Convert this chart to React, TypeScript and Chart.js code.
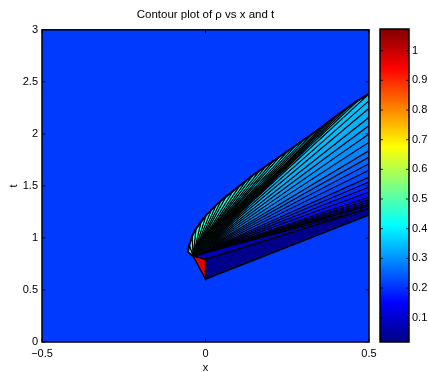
import React, { useEffect, useRef } from "react";
import { Chart, registerables } from "chart.js";
Chart.register(...registerables);

// ---------- texts & ticks ----------
const titleText = "Contour plot of ρ vs x and t";
const xAxisLabel = "x";
const tAxisLabel = "t";
const xTickValues = [-0.5, 0, 0.5];
const xTickLabels = ["−0.5", "0", "0.5"];
const tTickValues = [0, 0.5, 1, 1.5, 2, 2.5, 3];
const tTickLabels = ["0", "0.5", "1", "1.5", "2", "2.5", "3"];
const cbTickValues = [0.1, 0.2, 0.3, 0.4, 0.5, 0.6, 0.7, 0.8, 0.9, 1];
const cbTickLabels = ["0.1", "0.2", "0.3", "0.4", "0.5", "0.6", "0.7", "0.8", "0.9", "1"];
const rhoMin = 0.018;
const rhoMax = 1.073;

// ---------- domain (background density) ----------
const domainX = [-0.5, 0.5, 0.5, -0.5];
const domainT = [0, 0, 3, 3];
const rhoBackground = 0.21;

// ---------- red triangle (first vertex is the fan apex) ----------
const triX = [-0.038, 0, 0];
const triT = [0.825, 0.795, 0.605];
const rhoTriangle = 0.97;

// ---------- dark lower band ----------
const bandX = [0, 0.5, 0.5, 0];
const bandT = [0.795, 1.285, 1.22, 0.605];
const rhoBand = 0.03;

// ---------- upper fan boundary (shock) – contour rays end here ----------
const shockX = [-0.0535, -0.0495, -0.041, -0.029, -0.0138, 0.0015, 0.0168, 0.0321, 0.0474, 0.0627,
  0.0832, 0.1034, 0.1239, 0.1443, 0.1645, 0.185, 0.2055, 0.2257, 0.2514, 0.2768,
  0.3021, 0.3278, 0.3532, 0.3807, 0.4083, 0.4358, 0.4664, 0.5];
const shockT = [0.863, 0.93, 1.016, 1.09, 1.154, 1.217, 1.265, 1.313, 1.358, 1.397,
  1.448, 1.498, 1.55, 1.601, 1.645, 1.691, 1.736, 1.779, 1.835, 1.891,
  1.947, 2.004, 2.061, 2.127, 2.192, 2.255, 2.321, 2.385];
// ---------- contour rays ending on the right edge x = 0.5 ----------
const edgeX = 0.5;
const edgeT = [2.32, 2.246, 2.16, 2.08, 2.0, 1.92, 1.84, 1.777, 1.713, 1.65,
  1.585, 1.537, 1.489, 1.441, 1.393, 1.368, 1.345, 1.325, 1.31, 1.285];
// ---------- density level filling each wedge between consecutive rays ----------
const fanLevels = [0.5, 0.49, 0.48, 0.475, 0.47, 0.465, 0.46, 0.455, 0.45, 0.445,
  0.44, 0.435, 0.43, 0.425, 0.42, 0.415, 0.41, 0.405, 0.4, 0.395,
  0.39, 0.385, 0.38, 0.375, 0.37, 0.365, 0.36,
  0.355, 0.345, 0.335, 0.325, 0.31, 0.3, 0.285, 0.27, 0.255,
  0.24, 0.225, 0.21, 0.195, 0.18, 0.165, 0.15, 0.135, 0.12, 0.105, 0.09];
const rhoFoot = 0.08;

// ---------- styling helpers ----------
const FONT = "'Liberation Sans', Arial, Helvetica, sans-serif";
const clamp = (v: number) => Math.max(0, Math.min(1, v));
function jet(v: number): string {
  const f = (v - rhoMin) / (rhoMax - rhoMin);
  const r = clamp(1.5 - Math.abs(4 * f - 3));
  const g = clamp(1.5 - Math.abs(4 * f - 2));
  const b = clamp(1.5 - Math.abs(4 * f - 1));
  return `rgb(${Math.round(r * 255)},${Math.round(g * 255)},${Math.round(b * 255)})`;
}
const jetStops: [number, string][] = [
  [0, "rgb(0,0,128)"], [0.125, "rgb(0,0,255)"], [0.375, "rgb(0,255,255)"],
  [0.625, "rgb(255,255,0)"], [0.875, "rgb(255,0,0)"], [1, "rgb(128,0,0)"],
];

const pt = (x: number, y: number) => ({ x, y });

function poly(data: { x: number; y: number }[], fillColor: string | null, borderW: number, order: number) {
  return {
    type: "line" as const,
    data,
    showLine: true,
    fill: fillColor ? "shape" : false,
    backgroundColor: fillColor || "transparent",
    borderColor: "#000",
    borderWidth: borderW,
    pointRadius: 0,
    tension: 0,
    order,
  };
}

const frameTicksPlugin = {
  id: "frameTicks",
  afterDatasetsDraw(chart: any) {
    const { ctx, chartArea: a, scales } = chart;
    ctx.save();
    ctx.strokeStyle = "#000";
    ctx.lineWidth = 0.8;
    ctx.beginPath();
    xTickValues.forEach((v) => {
      const px = scales.x.getPixelForValue(v);
      ctx.moveTo(px, a.bottom); ctx.lineTo(px, a.bottom - 3.5);
      ctx.moveTo(px, a.top); ctx.lineTo(px, a.top + 3.5);
    });
    tTickValues.forEach((v) => {
      const py = scales.y.getPixelForValue(v);
      ctx.moveTo(a.left, py); ctx.lineTo(a.left + 3.5, py);
      ctx.moveTo(a.right, py); ctx.lineTo(a.right - 3.5, py);
    });
    ctx.stroke();
    ctx.lineWidth = 1.5;
    ctx.strokeRect(a.left, a.top, a.right - a.left, a.bottom - a.top);
    ctx.restore();
  },
};

const cbFramePlugin = {
  id: "cbFrame",
  afterDraw(chart: any) {
    const { ctx, chartArea: a, scales } = chart;
    ctx.save();
    ctx.strokeStyle = "#000";
    ctx.lineWidth = 0.8;
    ctx.beginPath();
    cbTickValues.forEach((v) => {
      const py = scales.y.getPixelForValue(v);
      ctx.moveTo(a.left, py); ctx.lineTo(a.left + 3, py);
      ctx.moveTo(a.right, py); ctx.lineTo(a.right - 3, py);
    });
    ctx.stroke();
    ctx.lineWidth = 1.5;
    ctx.strokeRect(a.left, a.top, a.right - a.left, a.bottom - a.top);
    ctx.restore();
  },
};

export default function App() {
  const mainRef = useRef<HTMLCanvasElement>(null);
  const cbRef = useRef<HTMLCanvasElement>(null);

  useEffect(() => {
    const apex = pt(triX[0], triT[0]);
    const rays = [
      ...shockX.map((x, i) => pt(x, shockT[i])),
      ...edgeT.map((t) => pt(edgeX, t)),
    ];
    const datasets: any[] = [];
    datasets.push(poly(domainX.map((x, i) => pt(x, domainT[i])).concat([pt(domainX[0], domainT[0])]), jet(rhoBackground), 0, 100));
    datasets.push(poly([apex, pt(bandX[1], bandT[1]), pt(bandX[0], bandT[0]), apex], jet(rhoFoot), 1, 90));
    fanLevels.forEach((lev, i) => {
      datasets.push(poly([apex, rays[i], rays[i + 1], apex], jet(lev), 1.05, 80));
    });
    datasets.push(poly(bandX.map((x, i) => pt(x, bandT[i])).concat([pt(bandX[0], bandT[0])]), jet(rhoBand), 1.5, 70));
    datasets.push(poly(triX.map((x, i) => pt(x, triT[i])).concat([apex]), jet(rhoTriangle), 1.3, 60));
    datasets.push(poly([apex, ...shockX.map((x, i) => pt(x, shockT[i]))], null, 2, 50));

    const tickFont = { family: FONT, size: 11 };
    const main = new Chart(mainRef.current!, {
      type: "scatter",
      data: { datasets },
      options: {
        animation: false,
        responsive: false,
        events: [],
        layout: { padding: { left: 0, right: 59, top: 0, bottom: 0 } },
        plugins: {
          legend: { display: false },
          tooltip: { enabled: false },
          title: {
            display: true,
            text: titleText,
            fullSize: false,
            color: "#000",
            font: { family: FONT, size: 11.5, weight: "normal" },
            padding: { top: 8, bottom: 8 },
          },
        },
        scales: {
          x: {
            type: "linear",
            min: -0.5,
            max: 0.5,
            grid: { display: false, drawTicks: false },
            border: { display: false },
            afterBuildTicks: (s: any) => { s.ticks = xTickValues.map((v) => ({ value: v })); },
            afterFit: (s: any) => { s.height = 30; },
            ticks: {
              padding: 5,
              color: "#000",
              font: tickFont,
              maxRotation: 0,
              autoSkip: false,
              callback: (_v: any, i: number) => xTickLabels[i],
            },
            title: { display: true, text: xAxisLabel, color: "#000", font: tickFont, padding: { top: 0, bottom: -3 } },
          },
          y: {
            type: "linear",
            min: 0,
            max: 3,
            grid: { display: false, drawTicks: false },
            border: { display: false },
            afterBuildTicks: (s: any) => { s.ticks = tTickValues.map((v) => ({ value: v })); },
            afterFit: (s: any) => { s.width = 42; },
            ticks: {
              padding: 4,
              color: "#000",
              font: tickFont,
              autoSkip: false,
              callback: (_v: any, i: number) => tTickLabels[i],
            },
            title: { display: true, text: tAxisLabel, color: "#000", font: tickFont, padding: { top: 7, bottom: 0 } },
          },
        },
      } as any,
      plugins: [frameTicksPlugin],
    });

    const cb = new Chart(cbRef.current!, {
      type: "bar",
      data: {
        labels: [""],
        datasets: [
          {
            data: [[rhoMin, rhoMax]] as any,
            borderWidth: 0,
            barPercentage: 1,
            categoryPercentage: 1,
            backgroundColor: (c: any) => {
              const ch = c.chart;
              const a = ch.chartArea;
              if (!a) return "blue";
              const g = ch.ctx.createLinearGradient(0, a.bottom, 0, a.top);
              jetStops.forEach(([p, col]) => g.addColorStop(p, col));
              return g;
            },
          },
        ],
      },
      options: {
        animation: false,
        responsive: false,
        events: [],
        layout: { padding: { top: 29, bottom: 30, left: 10, right: 0 } },
        plugins: { legend: { display: false }, tooltip: { enabled: false } },
        scales: {
          x: { display: false },
          y: {
            position: "right",
            min: rhoMin,
            max: rhoMax,
            grid: { display: false, drawTicks: false },
            border: { display: false },
            afterBuildTicks: (s: any) => { s.ticks = cbTickValues.map((v) => ({ value: v })); },
            afterFit: (s: any) => { s.width = 19; },
            ticks: {
              padding: 3,
              color: "#000",
              font: tickFont,
              autoSkip: false,
              callback: (_v: any, i: number) => cbTickLabels[i],
            },
          },
        },
      } as any,
      plugins: [cbFramePlugin],
    });

    return () => {
      main.destroy();
      cb.destroy();
    };
  }, []);

  return (
    <div style={{ position: "absolute", left: 0, top: 0, width: 428, height: 372 }}>
      <canvas ref={mainRef} width={428} height={372} style={{ position: "absolute", left: 0, top: 0 }} />
      <canvas ref={cbRef} width={58} height={372} style={{ position: "absolute", left: 370, top: 0 }} />
    </div>
  );
}
